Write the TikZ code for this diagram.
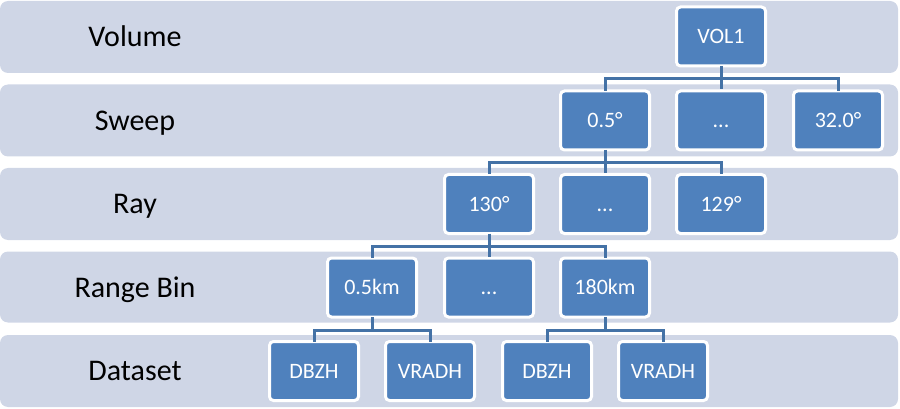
\documentclass[tikz,border=0pt]{standalone}
\usepackage{fontspec}
\setmainfont{Carlito}
\definecolor{bandc}{HTML}{CFD6E6}
\definecolor{boxc}{HTML}{4F81BD}
\definecolor{linec}{HTML}{4472A6}
\tikzset{
  band/.style={fill=bandc, draw=none, rounded corners=8pt},
  lvl/.style={font=\fontsize{30pt}{34pt}\selectfont, text=black, anchor=center,
    text height=19.5pt, text depth=0pt, inner sep=0pt},
  item/.style={fill=boxc, draw=white, line width=3pt, rounded corners=4pt,
    minimum width=89pt, minimum height=59pt, inner sep=0pt,
    text height=14.2pt, text depth=0pt,
    text=white, font=\fontsize{22pt}{26pt}\selectfont},
  conn/.style={draw=linec, line width=3pt}
}
\begin{document}
\begin{tikzpicture}[x=1pt,y=-1pt]
\useasboundingbox (0,0) rectangle (900,409);
% bands
\fill[band] (0,1) rectangle (898,73);
\fill[band] (0,84.5) rectangle (898,156.5);
\fill[band] (0,168) rectangle (898,240);
\fill[band] (0,251.5) rectangle (898,322.5);
\fill[band] (0,335) rectangle (898,407);
% labels
\node[lvl] (lv) at (135,37) {Volume};
\node[lvl] (ls) at (135,121) {Sweep};
\node[lvl] (lr) at (135,204) {Ray};
\node[lvl] (lb) at (135,288) {Range Bin};
\node[lvl] (ld) at (135,371) {Dataset};
% bar level coordinates
\coordinate (h1) at (0,79);
\coordinate (h2) at (0,163);
\coordinate (h3) at (0,246);
\coordinate (h4) at (0,330);
% nodes
\node[item] (v1) at (721,36.5) {VOL1};
\node[item] (s1) at (605,120.5) {0.5°};
\node[item] (s2) at (721,120.5) {...};
\node[item] (s3) at (838,120.5) {32.0°};
\node[item] (r1) at (489,204) {130°};
\node[item] (r2) at (605,204) {...};
\node[item] (r3) at (721,204) {129°};
\node[item] (b1) at (372,287.5) {0.5km};
\node[item] (b2) at (489,287.5) {...};
\node[item] (b3) at (605,287.5) {180km};
\node[item] (d1) at (314,371) {DBZH};
\node[item] (d2) at (430,371) {VRADH};
\node[item] (d3) at (547,371) {DBZH};
\node[item] (d4) at (663,371) {VRADH};
% connectors
\draw[conn] ([yshift=1.5pt]v1.south) -- (s2.north);
\draw[conn] (v1.south |- h1) -| ([yshift=-1.5pt]s1.north);
\draw[conn] (v1.south |- h1) -| ([yshift=-1.5pt]s3.north);
\draw[conn] ([yshift=1.5pt]s1.south) -- (r2.north);
\draw[conn] (s1.south |- h2) -| ([yshift=-1.5pt]r1.north);
\draw[conn] (s1.south |- h2) -| ([yshift=-1.5pt]r3.north);
\draw[conn] ([yshift=1.5pt]r1.south) -- (b2.north);
\draw[conn] (r1.south |- h3) -| ([yshift=-1.5pt]b1.north);
\draw[conn] (r1.south |- h3) -| ([yshift=-1.5pt]b3.north);
\draw[conn] ([yshift=1.5pt]b1.south) -- (b1.south |- h4);
\draw[conn] (b1.south |- h4) -| ([yshift=-1.5pt]d1.north);
\draw[conn] (b1.south |- h4) -| ([yshift=-1.5pt]d2.north);
\draw[conn] ([yshift=1.5pt]b3.south) -- (b3.south |- h4);
\draw[conn] (b3.south |- h4) -| ([yshift=-1.5pt]d3.north);
\draw[conn] (b3.south |- h4) -| ([yshift=-1.5pt]d4.north);
\end{tikzpicture}
\end{document}
